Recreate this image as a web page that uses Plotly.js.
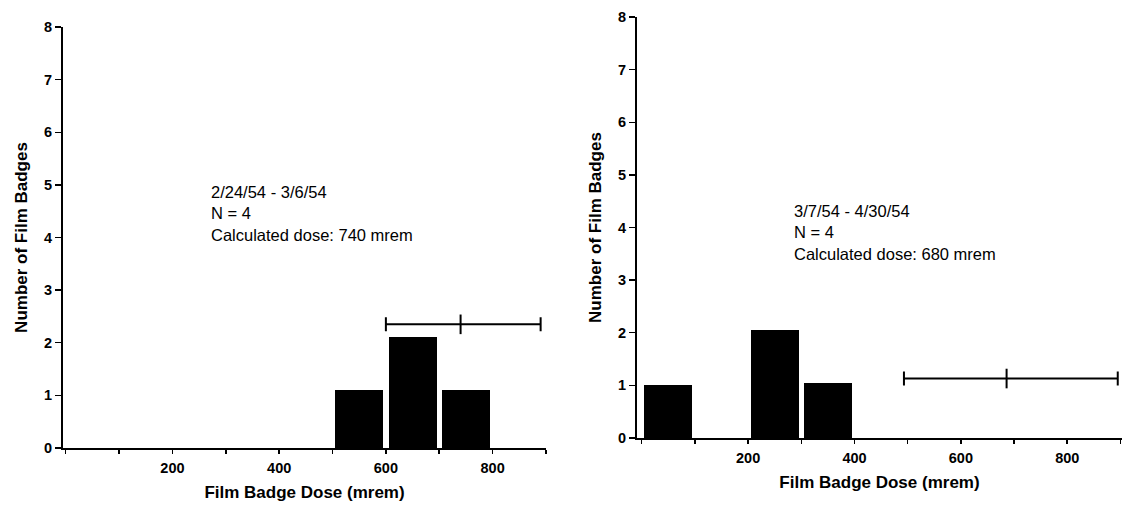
<!DOCTYPE html>
<html>
<head>
<meta charset="utf-8">
<script src="https://cdn.plot.ly/plotly-3.0.1.min.js"></script>
<style>html,body{margin:0;padding:0;background:#fff}#chart{width:1122px;height:505px}</style>
</head>
<body>
<div id="chart"></div>
<script>
// Panel A: 2/24/54 - 3/6/54
const binCentersA = [550, 650, 750];
const countsA = [1.1, 2.1, 1.1];
const doseA = 740, doseMinusA = 140, dosePlusA = 150, doseLevelA = 2.35;
const labelA = ['2/24/54 - 3/6/54', 'N = 4', 'Calculated dose: 740 mrem'];

// Panel B: 3/7/54 - 4/30/54
const binCentersB = [50, 250, 350];
const countsB = [1.0, 2.05, 1.05];
const doseB = 686, doseMinusB = 193, dosePlusB = 209, doseLevelB = 1.13;
const labelB = ['3/7/54 - 4/30/54', 'N = 4', 'Calculated dose: 680 mrem'];

const xTickVals = [0, 100, 200, 300, 400, 500, 600, 700, 800, 900];
const xTickText = ['', '', '200', '', '400', '', '600', '', '800', ''];
const yTickVals = [0, 1, 2, 3, 4, 5, 6, 7, 8];
const xTitle = 'Film Badge Dose (mrem)';
const yTitle = 'Number of Film Badges';

const FONT = 'Liberation Sans, Arial, Helvetica, sans-serif';
const boldTick = {family: FONT, size: 14.5, color: '#000', weight: 700};
const boldTitle = {family: FONT, size: 17, color: '#000', weight: 700};

function barTrace(x, y, xa, ya) {
  return {type: 'bar', x: x, y: y, width: 90, xaxis: xa, yaxis: ya,
    marker: {color: '#000', line: {width: 0}}, showlegend: false, hoverinfo: 'x+y'};
}
function errTrace(c, m, p, lvl, xa, ya) {
  return {type: 'scatter', mode: 'markers', x: [c], y: [lvl], xaxis: xa, yaxis: ya,
    marker: {symbol: 'line-ns-open', size: 14, color: '#000', line: {width: 2, color: '#000'}},
    error_x: {type: 'data', symmetric: false, array: [p], arrayminus: [m], color: '#000', thickness: 2, width: 7},
    showlegend: false};
}

const data = [
  barTrace(binCentersA, countsA, 'x', 'y'),
  errTrace(doseA, doseMinusA, dosePlusA, doseLevelA, 'x', 'y'),
  barTrace(binCentersB, countsB, 'x2', 'y2'),
  errTrace(doseB, doseMinusB, dosePlusB, doseLevelB, 'x2', 'y2')
];

function xAxis(domain, range, anchor) {
  return {domain: domain, range: range, anchor: anchor, showgrid: false, zeroline: false,
    showline: true, linecolor: '#000', linewidth: 2, ticks: 'outside', ticklen: 4, tickwidth: 1.5,
    tickcolor: '#000', tickmode: 'array', tickvals: xTickVals, ticktext: xTickText,
    tickfont: boldTick, ticklabelstandoff: 2, automargin: false,
    title: {text: xTitle, font: boldTitle, standoff: 11}};
}
function yAxis(domain, anchor) {
  return {domain: domain, range: [0, 8], anchor: anchor, showgrid: false, zeroline: false,
    showline: true, linecolor: '#000', linewidth: 2, ticks: 'outside', ticklen: 6, tickwidth: 1.5,
    tickcolor: '#000', tickmode: 'array', tickvals: yTickVals, tickfont: boldTick,
    ticklabelstandoff: 5.5, automargin: false,
    title: {text: yTitle, font: boldTitle, standoff: 12}};
}

const annFont = {family: FONT, size: 16.5, color: '#000'};
const layout = {
  width: 1122, height: 505,
  margin: {l: 0, r: 0, t: 0, b: 0},
  paper_bgcolor: '#fff', plot_bgcolor: 'rgba(0,0,0,0)',
  bargap: 0,
  xaxis: xAxis([0.0562, 0.4866], [-5, 900], 'y'),
  yaxis: yAxis([0.1129, 0.9465], 'x'),
  xaxis2: xAxis([0.5677, 1.0], [-9, 903], 'y2'),
  yaxis2: yAxis([0.1327, 0.9663], 'x2'),
  annotations: [
    {xref: 'x', yref: 'y', x: 268, y: 5.08, xanchor: 'left', yanchor: 'top', align: 'left',
     showarrow: false, text: labelA.join('<br>'), font: annFont},
    {xref: 'x2', yref: 'y2', x: 282, y: 4.53, xanchor: 'left', yanchor: 'top', align: 'left',
     showarrow: false, text: labelB.join('<br>'), font: annFont}
  ]
};

Plotly.newPlot('chart', data, layout, {displayModeBar: false, staticPlot: true});
</script>
</body>
</html>
